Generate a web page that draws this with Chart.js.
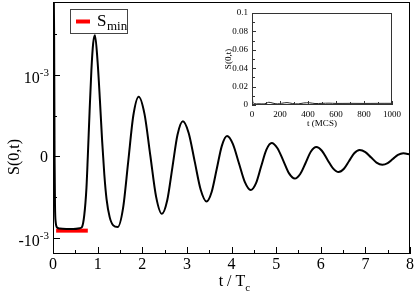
<!DOCTYPE html>
<html>
<head>
<meta charset="utf-8">
<script src="https://cdn.jsdelivr.net/npm/chart.js@4.4.0/dist/chart.umd.min.js"></script>
<style>
  body { margin: 0; background: #fff; }
  #wrap { position: relative; width: 415px; height: 292px; }
  #mainChart { position: absolute; left: 0; top: 0; }
  #insetChart { position: absolute; left: 215px; top: 0; }
</style>
</head>
<body>
<div id="wrap">
  <canvas id="mainChart" width="415" height="292"></canvas>
  <canvas id="insetChart" width="200" height="135"></canvas>
</div>
<script>
// ---- data: main plot, S(0,t) in units of 1e-3 vs t / Tc ----
var mainT = [0, 0.025, 0.035, 0.045, 0.06, 0.1, 0.15, 0.3, 0.45, 0.6,
             0.65, 0.7, 0.75, 0.78, 0.82, 0.86, 0.9, 0.94, 1.0, 1.05,
             1.1, 1.15, 1.2, 1.27, 1.35, 1.45, 1.57, 1.685, 1.8, 1.92,
             2.05, 2.18, 2.31, 2.44, 2.56, 2.675, 2.79, 2.91, 3.04, 3.175,
             3.31, 3.44, 3.555, 3.67, 3.785, 3.9, 4.03, 4.165, 4.3, 4.43,
             4.55, 4.665, 4.78, 4.9, 5.03, 5.16, 5.29, 5.42, 5.54, 5.66,
             5.78, 5.9, 6.025, 6.15, 6.275, 6.4, 6.52, 6.635, 6.75, 6.87,
             7.0, 7.125, 7.25, 7.38, 7.5, 7.615, 7.73, 7.85, 8.0];
var mainS = [3.0, 1.5, 0.0, -0.6, -0.8, -0.87, -0.88, -0.885, -0.885, -0.875,
             -0.86, -0.72, -0.38, 0.0, 0.55, 1.05, 1.38, 1.48, 1.15, 0.7,
             0.2, -0.22, -0.52, -0.74, -0.84, -0.86, -0.63, -0.065, 0.5, 0.73,
             0.52, 0.015, -0.49, -0.70, -0.535, -0.135, 0.265, 0.43, 0.287, -0.06,
             -0.407, -0.55, -0.433, -0.15, 0.133, 0.25, 0.154, -0.08, -0.314, -0.41,
             -0.326, -0.12, 0.081, 0.165, 0.101, -0.05, -0.206, -0.27, -0.214, -0.08,
             0.06, 0.115, 0.07, -0.04, -0.145, -0.19, -0.15, -0.055, 0.04, 0.08,
             0.054, -0.01, -0.074, -0.10, -0.08, -0.03, 0.02, 0.04, 0.025];
// S_min marker
var sminT = [0.07, 0.78];
var sminS = [-0.905, -0.905];

// main ticks
var xMajor = [0, 1, 2, 3, 4, 5, 6, 7, 8];
var xMinor = [0.5, 1.5, 2.5, 3.5, 4.5, 5.5, 6.5, 7.5];
var yMajor = [-1, 0, 1];
var yMinor = [-0.5, 0.5, 1.5];

// ---- data: inset, S(0,t) vs t (MCS) ----
var insetT = [0, 5, 15, 50, 80, 100, 120, 150, 180, 210, 250, 290,
              330, 370, 410, 450, 500, 550, 600, 700, 800, 900, 1000];
var insetS = [0.016, 0.004, 0.0015, 0.0013, 0.0012, 0.0018, 0.003, 0.002, 0.0012, 0.0018, 0.0026, 0.0016,
              0.0012, 0.0022, 0.0024, 0.0016, 0.0018, 0.002, 0.0017, 0.0018, 0.0017, 0.0018, 0.0018];
var insetXMajor = [0, 200, 400, 600, 800, 1000];
var insetXMinor = [100, 300, 500, 700, 900];
var insetYMajor = [0, 0.02, 0.04, 0.06, 0.08, 0.1];
var insetYMinor = [0.01, 0.03, 0.05, 0.07, 0.09];

var serif = '"Liberation Serif", "DejaVu Serif", serif';

function pairs(xs, ys) {
    return xs.map(function (x, i) { return { x: x, y: ys[i] }; });
}

// draws e.g. "10" with superscript "-3", right aligned
function drawPower(ctx, base, sup, right, y, size) {
    ctx.font = size + 'px ' + serif;
    var wb = ctx.measureText(base).width;
    var supSize = Math.round(size * 0.68);
    ctx.font = supSize + 'px ' + serif;
    var ws = ctx.measureText(sup).width;
    var x0 = right - wb - ws;
    ctx.textAlign = 'left';
    ctx.textBaseline = 'alphabetic';
    ctx.font = size + 'px ' + serif;
    ctx.fillText(base, x0, y + 8);
    ctx.font = supSize + 'px ' + serif;
    ctx.fillText(sup, x0 + wb, y + 1);
}

/* ----------------------------------------------------------------------------
                                 MAIN CHART
---------------------------------------------------------------------------- */
var mainAxes = {
    id: 'mainAxes',
    afterDatasetsDraw: function (chart) {
        var ctx = chart.ctx, a = chart.chartArea;
        var xs = chart.scales.x, ys = chart.scales.y;
        ctx.save();
        ctx.strokeStyle = '#000';
        ctx.fillStyle = '#000';
        ctx.lineWidth = 1;
        ctx.strokeRect(a.left + 0.5, a.top + 0.5, a.right - a.left - 1, a.bottom - a.top - 1);

        // inward ticks
        ctx.beginPath();
        xMajor.forEach(function (v) {
            var px = Math.round(xs.getPixelForValue(v)) + 0.5;
            ctx.moveTo(px, a.bottom); ctx.lineTo(px, a.bottom - 7);
        });
        xMinor.forEach(function (v) {
            var px = Math.round(xs.getPixelForValue(v)) + 0.5;
            ctx.moveTo(px, a.bottom); ctx.lineTo(px, a.bottom - 4);
        });
        yMajor.forEach(function (v) {
            var py = Math.round(ys.getPixelForValue(v)) + 0.5;
            ctx.moveTo(a.left, py); ctx.lineTo(a.left + 7, py);
        });
        yMinor.forEach(function (v) {
            var py = Math.round(ys.getPixelForValue(v)) + 0.5;
            ctx.moveTo(a.left, py); ctx.lineTo(a.left + 4, py);
        });
        ctx.stroke();

        // x tick labels
        ctx.font = '16px ' + serif;
        ctx.textAlign = 'center';
        ctx.textBaseline = 'alphabetic';
        xMajor.forEach(function (v) {
            ctx.fillText(String(v), xs.getPixelForValue(v), 269);
        });

        // y tick labels
        yMajor.forEach(function (v) {
            var py = ys.getPixelForValue(v);
            if (v === 0) {
                ctx.font = '16px ' + serif;
                ctx.textAlign = 'right';
                ctx.textBaseline = 'middle';
                ctx.fillText('0', 48, py + 1);
            } else {
                drawPower(ctx, v < 0 ? '-10' : '10', '-3', 49, py, 16);
            }
        });

        // axis titles
        ctx.font = '16px ' + serif;
        ctx.textAlign = 'left';
        ctx.textBaseline = 'alphabetic';
        var tw = ctx.measureText('t / T').width;
        var tx = 232 - tw / 2;
        ctx.fillText('t / T', tx, 286);
        ctx.font = '11px ' + serif;
        ctx.fillText('c', tx + tw, 291);

        ctx.save();
        ctx.translate(19, 157);
        ctx.rotate(-Math.PI / 2);
        ctx.font = '16px ' + serif;
        ctx.textAlign = 'center';
        ctx.textBaseline = 'alphabetic';
        ctx.fillText('S(0,t)', 0, 0);
        ctx.restore();

        // legend box
        ctx.fillStyle = '#fff';
        ctx.fillRect(70, 9, 57, 24);
        ctx.strokeStyle = '#444';
        ctx.strokeRect(70.5, 9.5, 57, 24);
        ctx.strokeStyle = chart.data.datasets[1].borderColor;
        ctx.lineWidth = 4;
        ctx.beginPath();
        ctx.moveTo(76, 21.5); ctx.lineTo(90, 21.5);
        ctx.stroke();
        ctx.fillStyle = '#000';
        ctx.font = '17px ' + serif;
        ctx.textAlign = 'left';
        ctx.fillText('S', 97, 26);
        ctx.font = '13px ' + serif;
        ctx.fillText('min', 107, 30);
        ctx.restore();
    }
};

new Chart(document.getElementById('mainChart').getContext('2d'), {
    type: 'line',
    data: {
        datasets: [{
            label: 'S(0,t)',
            data: pairs(mainT, mainS),
            borderColor: '#000',
            borderWidth: 2,
            pointRadius: 0,
            fill: false,
            cubicInterpolationMode: 'monotone'
        }, {
            label: 'S_min',
            data: pairs(sminT, sminS),
            borderColor: '#ff0000',
            borderWidth: 4,
            pointRadius: 0,
            fill: false
        }]
    },
    options: {
        responsive: false,
        animation: false,
        devicePixelRatio: 1,
        layout: { padding: { left: 53, right: 5, top: 2, bottom: 38 } },
        plugins: { legend: { display: false }, tooltip: { enabled: false } },
        scales: {
            x: { type: 'linear', min: 0, max: 8, display: false },
            y: { type: 'linear', min: -1.19, max: 1.885, display: false }
        }
    },
    plugins: [mainAxes]
});

/* ----------------------------------------------------------------------------
                                 INSET CHART
---------------------------------------------------------------------------- */
var insetAxes = {
    id: 'insetAxes',
    afterDatasetsDraw: function (chart) {
        var ctx = chart.ctx, a = chart.chartArea;
        var xs = chart.scales.x, ys = chart.scales.y;
        ctx.save();
        ctx.strokeStyle = '#333';
        ctx.fillStyle = '#000';
        ctx.lineWidth = 1;
        ctx.strokeRect(a.left + 0.5, a.top + 0.5, a.right - a.left - 1, a.bottom - a.top - 1);

        ctx.beginPath();
        insetXMajor.forEach(function (v) {
            var px = Math.round(xs.getPixelForValue(v)) + 0.5;
            ctx.moveTo(px, a.bottom); ctx.lineTo(px, a.bottom - 4);
        });
        insetXMinor.forEach(function (v) {
            var px = Math.round(xs.getPixelForValue(v)) + 0.5;
            ctx.moveTo(px, a.bottom); ctx.lineTo(px, a.bottom - 3);
        });
        insetYMajor.forEach(function (v) {
            var py = Math.round(ys.getPixelForValue(v)) + 0.5;
            ctx.moveTo(a.left, py); ctx.lineTo(a.left + 4, py);
        });
        insetYMinor.forEach(function (v) {
            var py = Math.round(ys.getPixelForValue(v)) + 0.5;
            ctx.moveTo(a.left, py); ctx.lineTo(a.left + 3, py);
        });
        ctx.stroke();

        ctx.font = '9px ' + serif;
        ctx.textAlign = 'center';
        ctx.textBaseline = 'middle';
        insetXMajor.forEach(function (v) {
            ctx.fillText(String(v), xs.getPixelForValue(v), a.bottom + 10);
        });
        ctx.textAlign = 'right';
        insetYMajor.forEach(function (v) {
            ctx.fillText(String(v), a.left - 4, ys.getPixelForValue(v));
        });
        ctx.textAlign = 'center';
        ctx.fillText('t (MCS)', (a.left + a.right) / 2, a.bottom + 19);

        ctx.translate(a.left - 23, (a.top + a.bottom) / 2);
        ctx.rotate(-Math.PI / 2);
        ctx.fillText('S(0,t)', 0, 0);
        ctx.restore();
    }
};

new Chart(document.getElementById('insetChart').getContext('2d'), {
    type: 'line',
    data: {
        datasets: [{
            label: 'S(0,t)',
            data: pairs(insetT, insetS),
            borderColor: '#222',
            borderWidth: 1,
            pointRadius: 0,
            fill: false,
            tension: 0.3
        }]
    },
    options: {
        responsive: false,
        animation: false,
        devicePixelRatio: 1,
        layout: { padding: { left: 37, right: 23, top: 13, bottom: 30 } },
        plugins: { legend: { display: false }, tooltip: { enabled: false } },
        scales: {
            x: { type: 'linear', min: 0, max: 1000, display: false },
            y: { type: 'linear', min: 0, max: 0.1, display: false }
        }
    },
    plugins: [insetAxes]
});
</script>
</body>
</html>
